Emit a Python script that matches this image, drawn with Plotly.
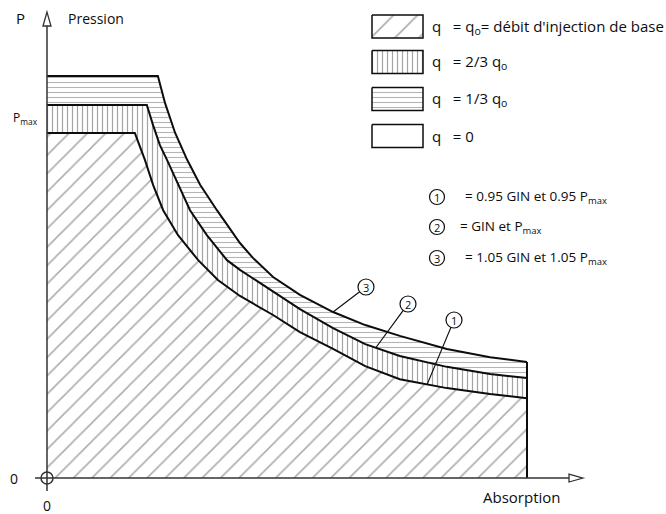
import numpy as np
import plotly.graph_objects as go

# Limiting curves of the GIN injection diagram (absorption V, pressure P).
# Units: Vmax = 100 (end of injection), Pmax = 100 (curve 2).
v_curve1 = [0, 18.3, 19.4, 20.4, 22.1, 24.2, 27.3, 31.5, 35.6, 40.2, 47.1, 52.7, 59.6, 66.3, 73.5, 83.3, 92.3, 100]
p_curve1 = [92.5, 92.5, 88.7, 85.3, 78.6, 71.8, 65.1, 58.4, 53.1, 48.8, 43.7, 39.1, 34.6, 30.0, 26.5, 24.1, 22.5, 21.4]

v_curve2 = [0, 20.8, 22.1, 23.5, 25.0, 27.3, 29.8, 33.3, 37.5, 40.2, 47.1, 52.7, 59.6, 66.3, 73.5, 83.3, 92.3, 100]
p_curve2 = [100, 100, 94.6, 89.3, 85.3, 78.6, 71.8, 65.1, 58.4, 55.8, 49.9, 45.3, 40.2, 35.9, 32.7, 29.8, 27.9, 26.8]

v_curve3 = [0, 23.1, 24.6, 26.7, 29.2, 31.9, 35.4, 40.2, 42.9, 47.1, 52.7, 59.6, 66.3, 73.5, 83.3, 92.3, 100]
p_curve3 = [107.8, 107.8, 100.5, 92.5, 85.3, 78.6, 71.8, 63.0, 59.0, 53.9, 49.1, 44.5, 41.0, 38.1, 34.6, 32.4, 31.1]

v_max = 100

legend_labels = [
    "q   = q<sub>o</sub>= débit d'injection de base",
    "q   = 2/3 q<sub>o</sub>",
    "q   = 1/3 q<sub>o</sub>",
    "q   = 0",
]
curve_labels = [
    "= 0.95 GIN et 0.95 P<sub>max</sub>",
    "= GIN et P<sub>max</sub>",
    "= 1.05 GIN et 1.05 P<sub>max</sub>",
]

W, H = 666, 514
XR = [-9.79, 128.96]
YR = [-9.65, 128.15]

FONT = "Open Sans"
INK = "#0d0d0d"


def to_px(v):
    return (v - XR[0]) / (XR[1] - XR[0]) * W


def to_py(p):
    return H - (p - YR[0]) / (YR[1] - YR[0]) * H


def hatch(shape, size, color, solidity):
    return dict(shape=shape, size=size, solidity=solidity, fgcolor=color, bgcolor="white")


fig = go.Figure()

# base injection rate: area under curve 1
fig.add_trace(go.Scatter(
    x=[0] + v_curve1 + [v_max, 0], y=[0] + p_curve1 + [0, 0],
    mode="lines", fill="toself", fillcolor="white", line=dict(width=0),
    fillpattern=hatch("/", 13, "#5a5a5a", 0.12), hoverinfo="skip", showlegend=False))

# 2/3 q0 band between curves 1 and 2
fig.add_trace(go.Scatter(
    x=v_curve2 + v_curve1[::-1], y=p_curve2 + p_curve1[::-1],
    mode="lines", fill="toself", fillcolor="white", line=dict(width=0),
    fillpattern=hatch("|", 5, "#4a4a4a", 0.24), hoverinfo="skip", showlegend=False))

# 1/3 q0 band between curves 2 and 3
fig.add_trace(go.Scatter(
    x=v_curve3 + v_curve2[::-1], y=p_curve3 + p_curve2[::-1],
    mode="lines", fill="toself", fillcolor="white", line=dict(width=0),
    fillpattern=hatch("-", 5, "#6a6a6a", 0.22), hoverinfo="skip", showlegend=False))

# curve outlines
for vs, ps in [(v_curve1, p_curve1), (v_curve2, p_curve2), (v_curve3, p_curve3)]:
    fig.add_trace(go.Scatter(x=vs, y=ps, mode="lines", line=dict(color=INK, width=2),
                             hoverinfo="skip", showlegend=False))
fig.add_trace(go.Scatter(x=[v_max, v_max], y=[p_curve3[-1], 0], mode="lines",
                         line=dict(color=INK, width=2), hoverinfo="skip", showlegend=False))

shapes = []
annotations = []


def pline(x0, y0, x1, y1, width=1.5, color="#333333"):
    shapes.append(dict(type="line", xref="x2", yref="y2", x0=x0, y0=y0, x1=x1, y1=y1,
                       line=dict(color=color, width=width)))


def ptext(x, y, text, size=13, xanchor="left", yanchor="middle"):
    annotations.append(dict(xref="x2", yref="y2", x=x, y=y, text=text, showarrow=False,
                            xanchor=xanchor, yanchor=yanchor,
                            font=dict(family=FONT, size=size, color=INK)))


ox, oy = to_px(0), to_py(0)

# axes with hollow arrow heads
pline(ox, oy + 13, ox, 25)
pline(ox - 12, oy, 570, oy)
shapes.append(dict(type="path", xref="x2", yref="y2",
                   path=f"M {ox} 12 L {ox-4} 26 L {ox+4} 26 Z",
                   line=dict(color="#333333", width=1.3), fillcolor="white"))
shapes.append(dict(type="path", xref="x2", yref="y2",
                   path=f"M 583 {oy} L 569 {oy-4} L 569 {oy+4} Z",
                   line=dict(color="#333333", width=1.3), fillcolor="white"))
shapes.append(dict(type="circle", xref="x2", yref="y2", x0=ox - 6, y0=oy - 6, x1=ox + 6, y1=oy + 6,
                   line=dict(color="#333333", width=1.5)))

ptext(20, 18, "P", 15, xanchor="center")
ptext(66, 18, "Pression", 14)
ptext(11, to_py(p_curve2[0]) + 13, "P<sub>max</sub>", 12)
ptext(14, oy, "0", 14, xanchor="center")
ptext(ox, oy + 27, "0", 14, xanchor="center")
ptext(481, oy + 19, "Absorption", 15)

# legend swatches
legend_rows = [26.5, 62, 99, 136]
patterns = [hatch("/", 17, "#5a5a5a", 0.1), hatch("|", 5, "#4a4a4a", 0.24),
            hatch("-", 5, "#6a6a6a", 0.22), None]
for yc, pat, lab in zip(legend_rows, patterns, legend_labels):
    x0, x1, y0, y1 = 372, 423, yc - 11.5, yc + 11.5
    tr = dict(x=[x0, x1, x1, x0, x0], y=[y0, y0, y1, y1, y0], mode="lines", fill="toself",
              fillcolor="white", line=dict(color=INK, width=1.5), xaxis="x2", yaxis="y2",
              hoverinfo="skip", showlegend=False)
    if pat is not None:
        tr["fillpattern"] = pat
    fig.add_trace(go.Scatter(**tr))
    ptext(430, yc, lab, 15)

# circled curve numbers


def circled(cx, cy, num, r=8, size=11):
    shapes.append(dict(type="circle", xref="x2", yref="y2", x0=cx - r, y0=cy - r, x1=cx + r, y1=cy + r,
                       line=dict(color=INK, width=1.2), fillcolor="white"))
    ptext(cx, cy, str(num), size, xanchor="center")


curve_rows = [197, 227, 258]
for i, (yc, lab) in enumerate(zip(curve_rows, curve_labels)):
    circled(437, yc, i + 1, r=7.5, size=11)
    ptext(463 if i != 1 else 458, yc, lab, 13.5)

# leaders from labels to curves
leaders = [
    (454, 320, 1, v_curve1, p_curve1, 79.2),
    (408, 304, 2, v_curve2, p_curve2, 68.5),
    (366, 287, 3, v_curve3, p_curve3, 59.6),
]
for cx, cy, num, vs, ps, vt in leaders:
    tx, ty = to_px(vt), to_py(np.interp(vt, vs, ps))
    d = np.hypot(tx - cx, ty - cy)
    sx, sy = cx + (tx - cx) * 8 / d, cy + (ty - cy) * 8 / d
    pline(sx, sy, tx, ty, width=1.2, color=INK)
    circled(cx, cy, num, r=8, size=11)

fig.update_layout(
    width=W, height=H, margin=dict(l=0, r=0, t=0, b=0),
    paper_bgcolor="white", plot_bgcolor="white",
    xaxis=dict(range=XR, visible=False, domain=[0, 1], fixedrange=True),
    yaxis=dict(range=YR, visible=False, domain=[0, 1], fixedrange=True),
    xaxis2=dict(range=[0, W], visible=False, overlaying="x", domain=[0, 1]),
    yaxis2=dict(range=[H, 0], visible=False, overlaying="y", domain=[0, 1]),
    shapes=shapes, annotations=annotations,
)

fig.write_html("out.html")
